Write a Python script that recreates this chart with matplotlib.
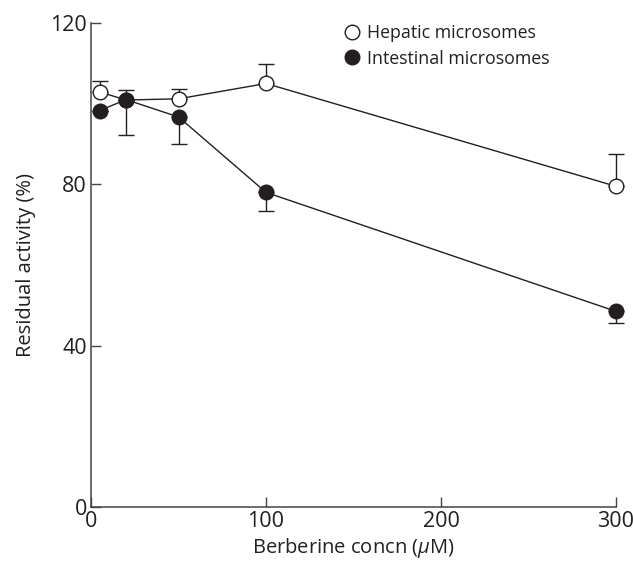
import matplotlib
matplotlib.use("Agg")
import matplotlib.pyplot as plt
from matplotlib.lines import Line2D

# berberine concentration (uM)
conc = [5, 20, 50, 100, 300]

# residual activity (%), error bars drawn one-sided as in the figure
hepatic = [102.9, 100.9, 101.2, 105.0, 79.5]
hepatic_err_up = [2.6, 2.6, 2.5, 4.9, 8.1]
intestinal = [98.3, 101.0, 96.7, 78.0, 48.5]
intestinal_err_down = [0.0, 8.7, 6.6, 4.7, 2.8]

xticks = [0, 100, 200, 300]
yticks = [0, 40, 80, 120]

ink = "#231f20"
plt.rcParams["font.family"] = ["Open Sans", "DejaVu Sans"]
plt.rcParams["mathtext.fontset"] = "custom"
plt.rcParams["mathtext.it"] = "Open Sans:italic"
plt.rcParams["mathtext.rm"] = "Open Sans"

fig = plt.figure(figsize=(6.33, 5.65), dpi=100)
ax = fig.add_axes([0.1438, 0.1027, 0.8294, 0.8566])

zeros = [0] * len(conc)
ax.errorbar(conc, hepatic, yerr=[zeros, hepatic_err_up], fmt="o-", color=ink,
            mfc="white", mec=ink, ms=10.5, mew=1.0, lw=1.0, capsize=5.5,
            elinewidth=1.0, capthick=1.0, clip_on=False, zorder=3)
ax.errorbar(conc, intestinal, yerr=[intestinal_err_down, zeros], fmt="o-", color=ink,
            mfc=ink, mec=ink, ms=10.5, mew=1.0, lw=1.0, capsize=5.5,
            elinewidth=1.0, capthick=1.0, clip_on=False, zorder=4)

ax.set_xlim(0, 300)
ax.set_ylim(0, 120)
ax.set_xticks(xticks)
ax.set_yticks(yticks)
for s in ["top", "right"]:
    ax.spines[s].set_visible(False)
for s in ["left", "bottom"]:
    ax.spines[s].set_color("#444444")
    ax.spines[s].set_linewidth(1.1)
ax.tick_params(direction="in", length=7, width=1.0, color="#444444", labelcolor=ink,
               labelsize=15.5, pad=3)

ax.set_xlabel("Berberine concn ($\\mathit{\\mu}$M)", fontsize=14.5, color=ink, labelpad=3)
ax.set_ylabel("Residual activity (%)", fontsize=14.5, color=ink, labelpad=10)

handles = [
    Line2D([], [], ls="none", marker="o", ms=10.5, mfc="white", mec=ink, mew=1.0),
    Line2D([], [], ls="none", marker="o", ms=10.5, mfc=ink, mec=ink, mew=1.0),
]
ax.legend(handles, ["Hepatic microsomes", "Intestinal microsomes"], loc="upper left",
          bbox_to_anchor=(0.45, 1.03), frameon=False, fontsize=12.8, handlelength=1.0,
          handletextpad=0.35, labelspacing=0.4, labelcolor=ink)

fig.savefig("out.png", dpi=100)
